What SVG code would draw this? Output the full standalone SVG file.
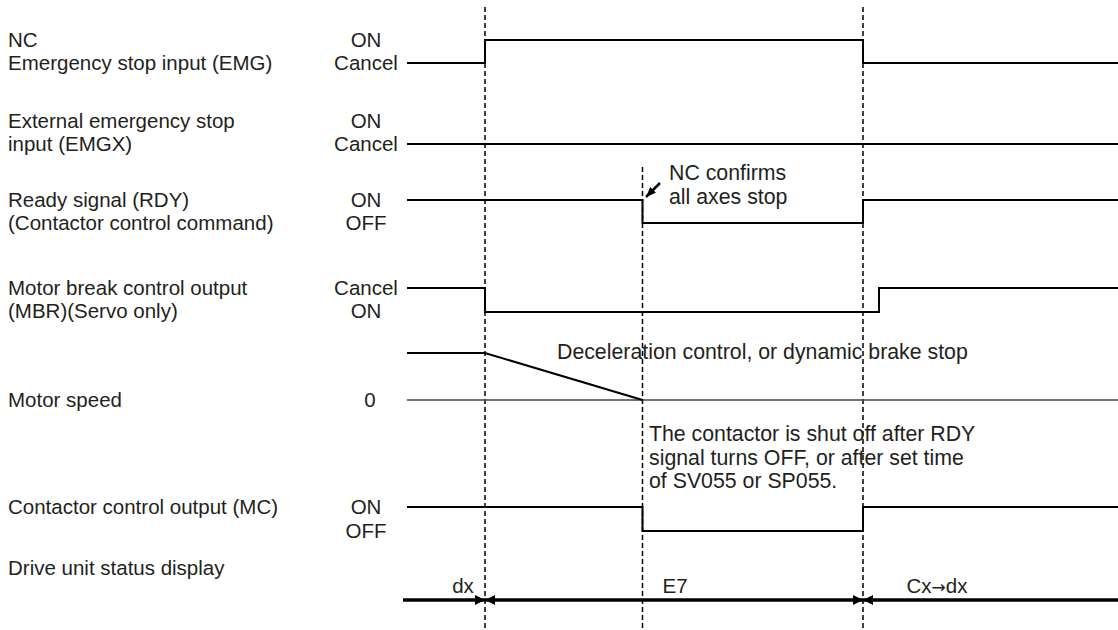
<svg xmlns="http://www.w3.org/2000/svg" width="1118" height="630" viewBox="0 0 1118 630">
<style>
text{font-family:"Liberation Sans",Arial,sans-serif;font-size:20.5px;fill:#231f20}
.st{text-anchor:middle}
.note{font-size:21.3px}
.sig{fill:none;stroke:#000;stroke-width:2}
.dash{fill:none;stroke:#000;stroke-width:1.5;stroke-dasharray:5 3}
.zero{fill:none;stroke:#444;stroke-width:1.3}
.stat{fill:none;stroke:#000;stroke-width:3.5}
</style>
<defs>
<marker id="ah" viewBox="0 0 10 10" refX="10" refY="5" markerWidth="10" markerHeight="10" markerUnits="userSpaceOnUse" orient="auto-start-reverse"><path d="M0,0L10,5L0,10Z" fill="#000"/></marker>
<marker id="nh" viewBox="0 0 10 8" refX="10" refY="4" markerWidth="10" markerHeight="8" markerUnits="userSpaceOnUse" orient="auto"><path d="M0,0L10,4L0,8Z" fill="#000"/></marker>
</defs>
<rect width="1118" height="630" fill="#fff"/>
<g id="guides">
<line class="dash" x1="485" y1="7" x2="485" y2="630"/>
<line class="dash" x1="642.5" y1="167" x2="642.5" y2="630"/>
<line class="dash" x1="863" y1="7" x2="863" y2="630"/>
</g>
<g id="emg">
<text x="8" y="47">NC</text>
<text x="8" y="70">Emergency stop input (EMG)</text>
<text class="st" x="366" y="47">ON</text>
<text class="st" x="366" y="70">Cancel</text>
<polyline class="sig" points="407,63 485,63 485,40 863,40 863,63 1118,63"/>
</g>
<g id="emgx">
<text x="8" y="128">External emergency stop</text>
<text x="8" y="151">input (EMGX)</text>
<text class="st" x="366" y="128">ON</text>
<text class="st" x="366" y="151">Cancel</text>
<polyline class="sig" points="407,144 1118,144"/>
</g>
<g id="rdy">
<text x="8" y="207">Ready signal (RDY)</text>
<text x="8" y="230">(Contactor control command)</text>
<text class="st" x="366" y="207">ON</text>
<text class="st" x="366" y="230">OFF</text>
<polyline class="sig" points="407,200 642.5,200 642.5,223 863,223 863,200 1118,200"/>
<text class="note" x="669" y="180">NC confirms</text>
<text class="note" x="669" y="204">all axes stop</text>
</g>
<g id="mbr">
<text x="8" y="295">Motor break control output</text>
<text x="8" y="318">(MBR)(Servo only)</text>
<text class="st" x="366" y="295">Cancel</text>
<text class="st" x="366" y="318">ON</text>
<polyline class="sig" points="407,288 485,288 485,312 879,312 879,288 1118,288"/>
</g>
<g id="speed">
<text x="8" y="407">Motor speed</text>
<text class="st" x="370" y="407">0</text>
<line class="zero" x1="407" y1="400" x2="1118" y2="400"/>
<polyline class="sig" points="407,353 485,353 642.5,400"/>
<text class="note" x="557" y="359">Deceleration control, or dynamic brake stop</text>
</g>
<g id="mc">
<text x="8" y="514">Contactor control output (MC)</text>
<text class="st" x="366" y="514">ON</text>
<text class="st" x="366" y="538">OFF</text>
<polyline class="sig" points="407,507 642.5,507 642.5,531 863,531 863,507 1118,507"/>
<text class="note" x="649" y="441">The contactor is shut off after RDY</text>
<text class="note" x="649" y="465">signal turns OFF, or after set time</text>
<text class="note" x="649" y="488">of SV055 or SP055.</text>
</g>
<g id="status">
<text x="8" y="575">Drive unit status display</text>
<text class="st" x="463" y="593">dx</text>
<text class="st" x="675" y="593">E7</text>
<text class="st" x="937" y="593">Cx<tspan font-family="'DejaVu Sans',sans-serif" font-size="17px">→</tspan>dx</text>
</g>
<g id="connectors">
<line class="stat" x1="403" y1="600" x2="485" y2="600" marker-end="url(#ah)"/>
<line class="stat" x1="485" y1="600" x2="863" y2="600" marker-start="url(#ah)" marker-end="url(#ah)"/>
<line class="stat" x1="863" y1="600" x2="1118" y2="600" marker-start="url(#ah)"/>
<line x1="660" y1="183" x2="646" y2="197" stroke="#000" stroke-width="2.5" marker-end="url(#nh)"/>
</g>
</svg>
